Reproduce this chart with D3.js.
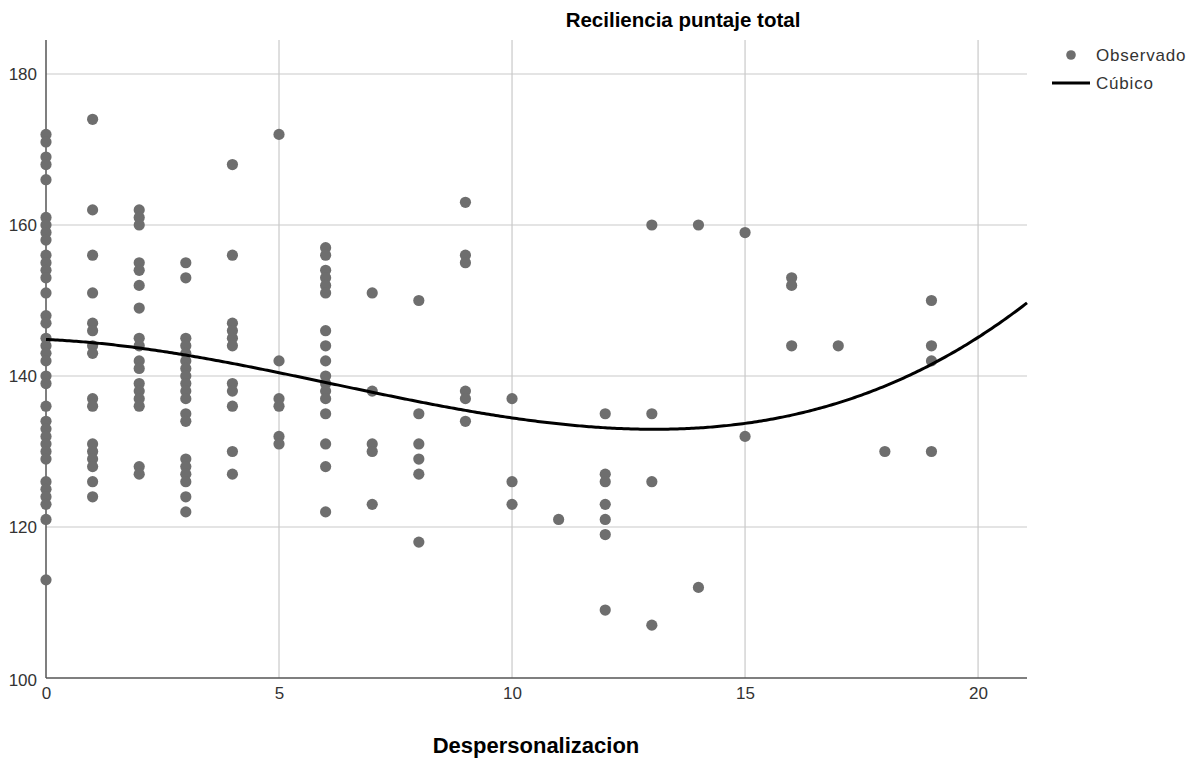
<!DOCTYPE html>
<html><head><meta charset="utf-8">
<script src="https://cdn.jsdelivr.net/npm/d3@7"></script>
<style>body{margin:0;background:#fff;} svg{display:block;font-family:"Liberation Sans",Arial,sans-serif;}</style>
</head><body>
<svg id="c" width="1204" height="761"></svg>
<script>
const chartTitle = "Reciliencia puntaje total";
const xTitle = "Despersonalizacion";
const legendLabels = ["Observado", "Cúbico"];
const xTicks = [0, 5, 10, 15, 20];
const yTicks = [100, 120, 140, 160, 180];
// Observed scores grouped by Despersonalizacion value
const obsX = [0,1,2,3,4,5,6,7,8,9,10,11,12,13,14,15,16,17,18,19];
const obsY = [
  [172,171,169,168,166,161,160,159,158,156,155,154,153,151,148,147,145,144,143,142,140,139,136,134,133,132,131,130,129,126,125,124,123,121,113],
  [174,162,156,151,147,146,144,143,137,136,131,130,129,128,126,124],
  [162,161,160,155,154,152,149,145,144,142,141,139,138,137,136,128,127],
  [155,153,145,144,143,142,141,140,139,138,137,135,134,129,128,127,126,124,122],
  [168,156,147,146,145,144,139,138,136,130,127],
  [172,142,137,136,132,131],
  [157,156,154,153,152,151,146,144,142,140,139,138,137,135,131,128,122],
  [151,138,131,130,123],
  [150,135,131,129,127,118],
  [163,156,155,138,137,134],
  [137,126,123],
  [121],
  [135,127,126,123,121,119,109],
  [160,135,126,107],
  [160,112],
  [159,132],
  [153,152,144],
  [144],
  [130],
  [150,144,142,130]
];
// Cubic fit curve values
const curveX = [0, 1, 3, 5, 7, 10, 13, 15, 19, 20, 21];
const curveY = [144.9, 144.4, 142.6, 140.4, 138.1, 134.4, 132.8, 133.8, 141.5, 145.2, 149.4];

const points = [];
obsX.forEach((x, i) => obsY[i].forEach(y => points.push({x, y})));

// cubic least-squares through the read curve values
function cubicFit(xs, ys) {
  const n = 4;
  const A = Array.from({length:n}, () => new Array(n).fill(0));
  const b = new Array(n).fill(0);
  xs.forEach((xv, k) => {
    const pw = [1, xv, xv*xv, xv*xv*xv];
    for (let r=0;r<n;r++){ b[r]+=pw[r]*ys[k]; for(let c=0;c<n;c++) A[r][c]+=pw[r]*pw[c]; }
  });
  for (let i=0;i<n;i++){
    let m=i; for(let r=i+1;r<n;r++) if(Math.abs(A[r][i])>Math.abs(A[m][i])) m=r;
    [A[i],A[m]]=[A[m],A[i]]; [b[i],b[m]]=[b[m],b[i]];
    for(let r=i+1;r<n;r++){ const f=A[r][i]/A[i][i]; for(let c=i;c<n;c++) A[r][c]-=f*A[i][c]; b[r]-=f*b[i]; }
  }
  const co=new Array(n).fill(0);
  for(let i=n-1;i>=0;i--){ let s=b[i]; for(let c=i+1;c<n;c++) s-=A[i][c]*co[c]; co[i]=s/A[i][i]; }
  return co;
}
const coef = cubicFit(curveX, curveY);

const svg = d3.select("#c");
const L = 46, R = 1027, T = 40, B = 678;
const x = d3.scaleLinear().domain([0, 21.05]).range([L, R]);
const y = d3.scaleLinear().domain([100, 184.5]).range([B, T]);

// grid
svg.append("g").selectAll("line").data(yTicks.filter(d=>d>100)).join("line")
  .attr("x1", L).attr("x2", R).attr("y1", d=>y(d)).attr("y2", d=>y(d))
  .attr("stroke", "#c9c9c9").attr("stroke-width", 1.2);
svg.append("g").selectAll("line").data(xTicks.filter(d=>d>0)).join("line")
  .attr("x1", d=>x(d)).attr("x2", d=>x(d)).attr("y1", T).attr("y2", B)
  .attr("stroke", "#c9c9c9").attr("stroke-width", 1.2);

// axes
const yAxis = svg.append("g").attr("transform", `translate(${L},0)`)
  .call(d3.axisLeft(y).tickValues(yTicks).tickSize(0).tickPadding(9));
yAxis.select(".domain").attr("stroke", "#555").attr("stroke-width", 1.5).attr("d", `M0,${T}V${B}`);
yAxis.selectAll("text").attr("font-size", 17).attr("fill", "#333").attr("font-family", "Liberation Sans, Arial, sans-serif");
yAxis.selectAll(".tick").filter(d=>d===100).select("text").attr("dy", "0.45em");

const xAxis = svg.append("g").attr("transform", `translate(0,${B})`)
  .call(d3.axisBottom(x).tickValues(xTicks).tickSize(0).tickPadding(9));
xAxis.select(".domain").attr("stroke", "#555").attr("stroke-width", 1.5).attr("d", `M${L},0H${R}`);
xAxis.selectAll("text").attr("font-size", 17).attr("fill", "#333").attr("font-family", "Liberation Sans, Arial, sans-serif");

// points
svg.append("g").selectAll("circle").data(points).join("circle")
  .attr("cx", d=>x(d.x)).attr("cy", d=>y(d.y)).attr("r", 5.6)
  .attr("fill", "#6e6e6e");

// cubic curve
const xs = d3.range(0, 21.05 + 0.001, 0.05);
const curve = xs.map(v => ({x: v, y: coef[0] + coef[1]*v + coef[2]*v*v + coef[3]*v*v*v}));
svg.append("path").datum(curve)
  .attr("d", d3.line().x(d=>x(d.x)).y(d=>y(d.y)))
  .attr("fill", "none").attr("stroke", "#000").attr("stroke-width", 3);

// titles
svg.append("text").attr("x", 683).attr("y", 27).attr("text-anchor", "middle")
  .attr("font-size", 20.5).attr("font-weight", "bold").attr("fill", "#000").text(chartTitle);
svg.append("text").attr("x", 536).attr("y", 753).attr("text-anchor", "middle")
  .attr("font-size", 22).attr("font-weight", "bold").attr("fill", "#000").text(xTitle);

// legend
const lg = svg.append("g");
lg.append("circle").attr("cx", 1071).attr("cy", 55).attr("r", 4.8).attr("fill", "#6e6e6e");
lg.append("text").attr("x", 1096).attr("y", 61).attr("font-size", 17).attr("letter-spacing", 0.8).attr("fill", "#333").text(legendLabels[0]);
lg.append("line").attr("x1", 1052).attr("x2", 1090).attr("y1", 83).attr("y2", 83).attr("stroke", "#000").attr("stroke-width", 3);
lg.append("text").attr("x", 1096).attr("y", 89).attr("font-size", 17).attr("letter-spacing", 0.8).attr("fill", "#333").text(legendLabels[1]);
</script>
</body></html>
